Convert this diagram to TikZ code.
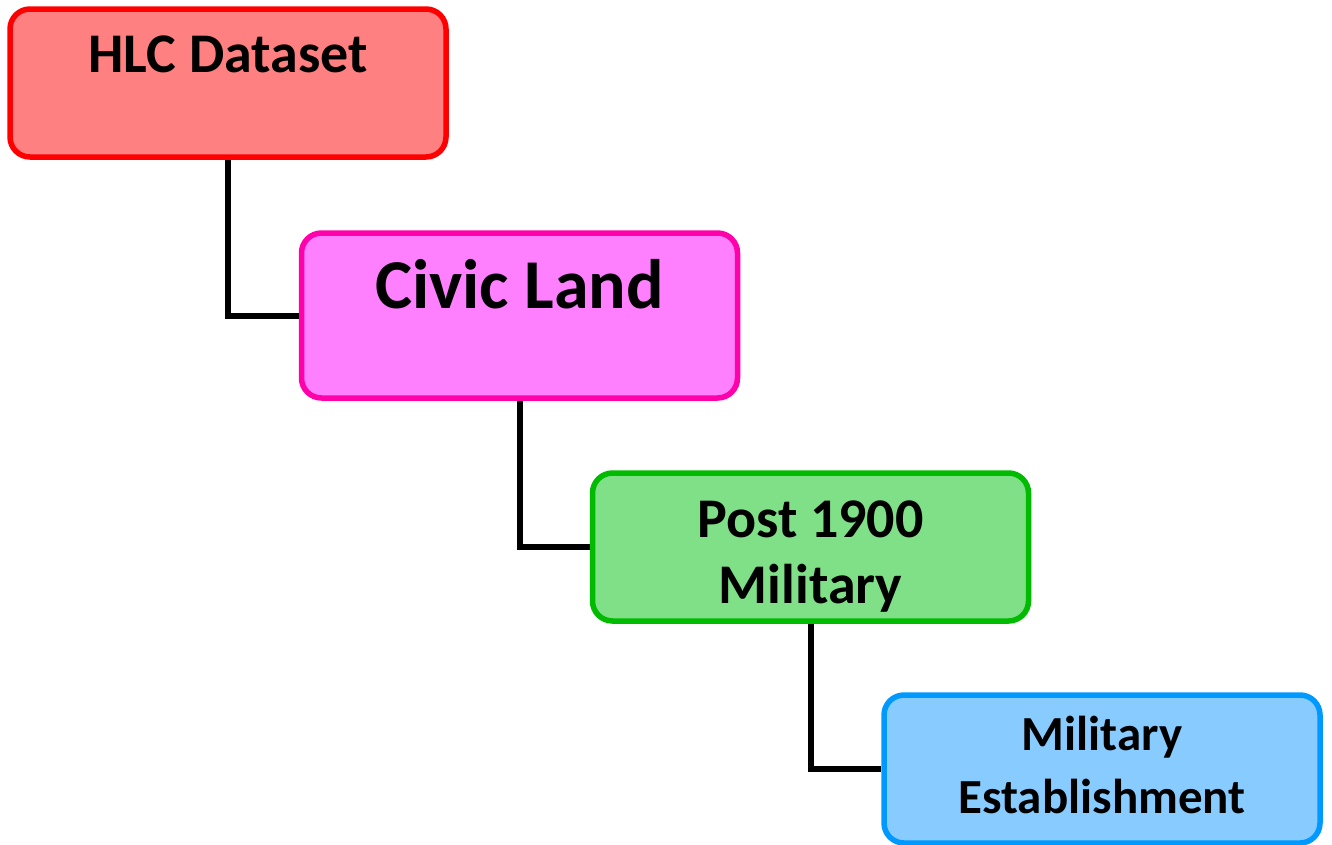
\documentclass[tikz,border=0pt]{standalone}
\usepackage{fontspec}
\setmainfont{Carlito}
\definecolor{redfill}{HTML}{FF8080}
\definecolor{redline}{HTML}{FF0000}
\definecolor{pinkfill}{HTML}{FF80FF}
\definecolor{pinkline}{HTML}{FF00AA}
\definecolor{greenfill}{HTML}{80E088}
\definecolor{greenline}{HTML}{00BB00}
\definecolor{bluefill}{HTML}{88CCFF}
\definecolor{blueline}{HTML}{0099FF}
\tikzset{
  box/.style={draw, line width=5.5pt, rounded corners=20pt, inner sep=0pt, minimum width=436pt},
  boxtext/.style={anchor=base, align=center, inner sep=0pt, font=\bfseries},
  link/.style={draw=black, line width=6pt},
}
\begin{document}
\begin{tikzpicture}[x=1pt, y=-1pt]
  \useasboundingbox (0,0) rectangle (1332,844);
  % tree boxes
  \node[box, fill=redfill, draw=redline, minimum height=148pt] (b1) at (228,83) {};
  \node[box, fill=pinkfill, draw=pinkline, minimum height=165pt] (b2) at (519.5,315.5) {};
  \node[box, fill=greenfill, draw=greenline, minimum height=148pt] (b3) at (810.5,547) {};
  \node[box, fill=bluefill, draw=blueline, minimum height=148pt] (b4) at (1102,769) {};
  % elbow connectors
  \draw[link] (b1.south) |- (b2.west);
  \draw[link] (b2.south) |- (b3.west);
  \draw[link] (b3.south) |- (b4.west);
  % labels (anchored on the baseline of the last line)
  \node[boxtext, font=\bfseries\fontsize{56}{66}\selectfont] (t1) at (228,72) {HLC Dataset};
  \node[boxtext, font=\bfseries\fontsize{70}{84}\selectfont] (t2) at (519.5,308) {Civic Land};
  \node[boxtext, font=\bfseries\fontsize{56}{66}\selectfont] (t3) at (810.5,603) {Post 1900\\Military};
  \node[boxtext, font=\bfseries\fontsize{49}{63}\selectfont] (t4) at (1102,813) {Military\\Establishment};
\end{tikzpicture}
\end{document}
